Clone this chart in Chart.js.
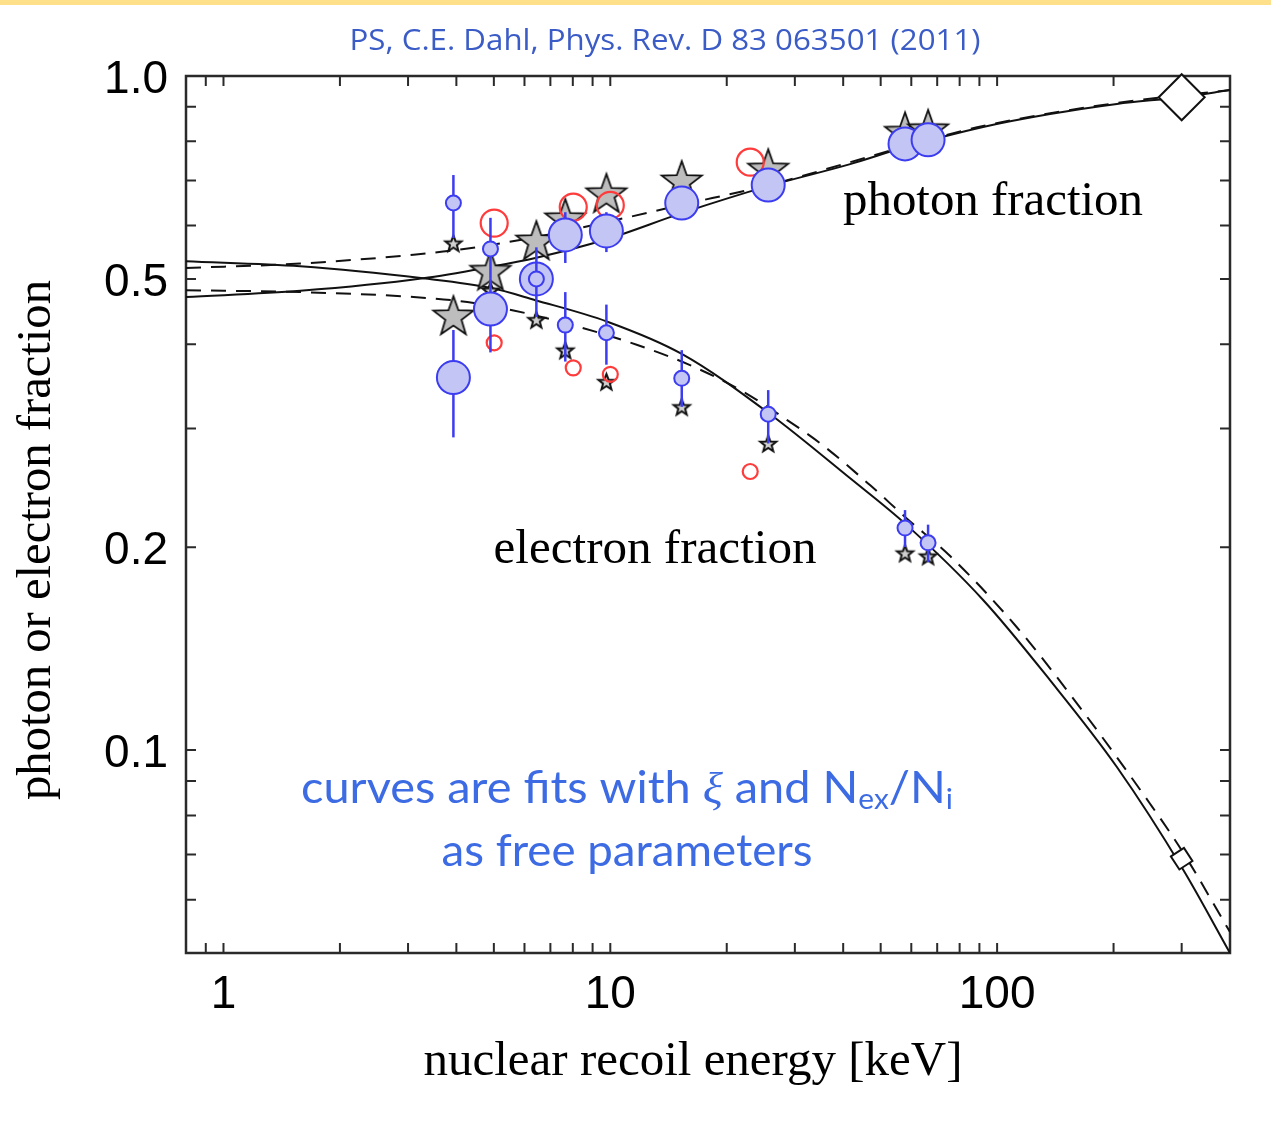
<!DOCTYPE html>
<html>
<head>
<meta charset="utf-8">
<title>Photon and electron fractions</title>
<script src="https://cdn.jsdelivr.net/npm/chart.js@4.4.1/dist/chart.umd.min.js"></script>
<style>
  html, body { margin: 0; padding: 0; background: #fff; }
  #wrap { position: absolute; left: 0; top: 0; width: 1271px; height: 1147px; }
  #band { position: absolute; left: 0; top: 0; width: 1271px; height: 5px; background: #fee08b; }
</style>
</head>
<body>
<div id="wrap"><canvas id="chart" width="1271" height="1147"></canvas></div>
<div id="band"></div>
<script>
// --- data (energies in keV, fractions) ---
const blueE = [3.93, 4.90, 6.44, 7.65, 9.77, 15.3, 25.6, 57.8, 66.3];
const bluePhoton = [0.357, 0.451, 0.500, 0.581, 0.589, 0.648, 0.689, 0.793, 0.804];
const bluePhotonLo = [0.291, 0.389, null, 0.528, 0.548, null, null, null, null];
const bluePhotonHi = [0.420, 0.500, null, 0.628, 0.628, null, null, null, null];
const blueElectron = [0.648, 0.554, 0.500, 0.427, 0.416, 0.356, 0.315, 0.2135, 0.203];
const blueElectronLo = [0.575, 0.500, 0.439, 0.377, 0.373, 0.323, 0.285, 0.200, 0.190];
const blueElectronHi = [0.713, 0.616, 0.557, 0.478, 0.458, 0.392, 0.342, 0.227, 0.216];

const starE = [3.93, 4.90, 6.44, 7.65, 9.77, 15.3, 25.6, 57.8, 66.3];
const starPhoton = [0.442, 0.515, 0.571, 0.616, 0.671, 0.701, 0.730, 0.828, 0.835];
const starElectron = [0.565, 0.481, 0.435, 0.392, 0.352, 0.323, 0.285, 0.196, 0.194];

const redE = [5.01, 8.02, 10.0, 23.0];
const redPhoton = [0.605, 0.639, 0.643, 0.745];
const redElectron = [0.402, 0.369, 0.361, 0.259];

const diamondE = [300];
const diamondPhoton = [0.93];
const diamondElectron = [0.069];

// fit curves
const fitE = [0.8, 1.58, 3.28, 4.90, 6.40, 9.83, 15.3, 25.7, 41.7, 58.2, 92.0, 137, 204, 303, 400];
const fitPhoton = [0.470, 0.480, 0.501, 0.521, 0.537, 0.573, 0.626, 0.687, 0.740, 0.785, 0.840, 0.878, 0.909, 0.931, 0.953];
const fitElectron = [0.531, 0.522, 0.501, 0.485, 0.465, 0.432, 0.387, 0.316, 0.253, 0.216, 0.167, 0.127, 0.0944, 0.0664, 0.0500];

const altPhotonE = [0.8, 1.58, 3.10, 4.02, 6.44, 9.77, 15.3, 25.7, 41.7, 58.2, 92.0, 204, 400];
const altPhoton = [0.519, 0.527, 0.543, 0.552, 0.577, 0.607, 0.644, 0.689, 0.745, 0.787, 0.843, 0.912, 0.953];
const altElectronE = [0.8, 1.58, 3.10, 4.27, 5.62, 8.35, 11.75, 15.8, 21.7, 28.6, 35.5, 47.0, 58.2, 75.6, 112.6, 166, 248, 302, 400];
const altElectron = [0.481, 0.478, 0.470, 0.462, 0.449, 0.424, 0.399, 0.374, 0.342, 0.309, 0.283, 0.247, 0.221, 0.194, 0.152, 0.1145, 0.0834, 0.0706, 0.0537];

// axes
const xTickValues = [1, 10, 100];
const xTickLabels = ['1', '10', '100'];
const xMinorTicks = [0.9, 1, 2, 3, 4, 5, 6, 7, 8, 9, 10, 20, 30, 40, 50, 60, 70, 80, 90, 100, 200, 300];
const yTickValues = [1.0, 0.5, 0.2, 0.1];
const yTickLabels = ['1.0', '0.5', '0.2', '0.1'];
const yMinorTicks = [0.06, 0.07, 0.08, 0.09, 0.1, 0.2, 0.3, 0.4, 0.5, 0.6, 0.7, 0.8, 0.9];

const pts = (xs, ys) => xs.map((e, i) => ({ x: e, y: ys[i] }));

// 5-pointed star markers
function makeStar(outerR, innerR, fill, lw) {
    const size = Math.ceil(2 * outerR + 2 * lw + 4);
    const c = document.createElement('canvas');
    c.width = c.height = size;
    const g = c.getContext('2d');
    g.translate(size / 2, size / 2 + outerR * 0.1);
    g.beginPath();
    for (let i = 0; i < 10; i++) {
        const r = i % 2 ? innerR : outerR;
        const a = -Math.PI / 2 + i * Math.PI / 5;
        g.lineTo(r * Math.cos(a), r * Math.sin(a));
    }
    g.closePath();
    g.fillStyle = fill;
    g.fill();
    g.lineWidth = lw;
    g.strokeStyle = '#111';
    g.stroke();
    return c;
}
const bigStar = makeStar(21, 8.5, '#bdbdbd', 1.8);
const smallStar = makeStar(8.5, 3.6, '#d0d0d0', 2);

// error bars drawn just before their dataset
const errorBars = {
    id: 'errorBars',
    beforeDatasetDraw(chart, args) {
        const ds = chart.data.datasets[args.index];
        if (!ds.errLo) return;
        const { ctx } = chart;
        const y = chart.scales.y;
        ctx.save();
        ctx.strokeStyle = '#3c3cf0';
        ctx.lineWidth = 2.5;
        args.meta.data.forEach((p, i) => {
            if (ds.errLo[i] == null) return;
            ctx.beginPath();
            ctx.moveTo(p.x, y.getPixelForValue(ds.errHi[i]));
            ctx.lineTo(p.x, y.getPixelForValue(ds.errLo[i]));
            ctx.stroke();
        });
        ctx.restore();
    }
};

// frame with inward ticks on all four sides
const frame = {
    id: 'frame',
    beforeDatasetsDraw(chart) {
        const { ctx, chartArea: a, scales: { x, y } } = chart;
        ctx.save();
        ctx.strokeStyle = '#2a2a2a';
        ctx.lineWidth = 2;
        ctx.beginPath();
        xMinorTicks.forEach(v => {
            const px = x.getPixelForValue(v);
            ctx.moveTo(px, a.bottom); ctx.lineTo(px, a.bottom - 10);
            ctx.moveTo(px, a.top); ctx.lineTo(px, a.top + 10);
        });
        yMinorTicks.forEach(v => {
            const py = y.getPixelForValue(v);
            ctx.moveTo(a.left, py); ctx.lineTo(a.left + 10, py);
            ctx.moveTo(a.right, py); ctx.lineTo(a.right - 10, py);
        });
        ctx.stroke();
        ctx.lineWidth = 2.5;
        ctx.strokeRect(a.left, a.top, a.right - a.left, a.bottom - a.top);
        ctx.restore();
    }
};

function fitText(ctx, text, cx, by, w, font, color) {
    ctx.font = font;
    const m = ctx.measureText(text).width;
    ctx.save();
    ctx.translate(cx, by);
    ctx.scale(w / m, 1);
    ctx.fillStyle = color;
    ctx.textAlign = 'center';
    ctx.textBaseline = 'alphabetic';
    ctx.fillText(text, 0, 0);
    ctx.restore();
}

function richText(ctx, parts, cx, by, w, color) {
    let total = 0;
    parts.forEach(p => { ctx.font = p.font; p.w = ctx.measureText(p.t).width; total += p.w; });
    ctx.save();
    ctx.translate(cx - w / 2, by);
    ctx.scale(w / total, 1);
    ctx.fillStyle = color;
    ctx.textAlign = 'left';
    ctx.textBaseline = 'alphabetic';
    let xx = 0;
    parts.forEach(p => { ctx.font = p.font; ctx.fillText(p.t, xx, p.dy || 0); xx += p.w; });
    ctx.restore();
}

// labels, titles and notes
const labels = {
    id: 'labels',
    afterDraw(chart) {
        const { ctx, chartArea: a, scales: { x, y } } = chart;
        ctx.save();
        ctx.fillStyle = '#000';
        ctx.font = '46px "Liberation Sans", Arial, sans-serif';
        ctx.textBaseline = 'alphabetic';
        ctx.textAlign = 'right';
        yTickValues.forEach((v, i) => ctx.fillText(yTickLabels[i], a.left - 18, y.getPixelForValue(v) + 17));
        ctx.textAlign = 'center';
        xTickValues.forEach((v, i) => ctx.fillText(xTickLabels[i], x.getPixelForValue(v), a.bottom + 55));
        ctx.restore();

        const serif = '48px "Liberation Serif", "Times New Roman", serif';
        fitText(ctx, 'nuclear recoil energy [keV]', 693, 1075, 539, serif, '#000');
        ctx.save();
        ctx.translate(50, 540);
        ctx.rotate(-Math.PI / 2);
        fitText(ctx, 'photon or electron fraction', 0, 0, 520, serif, '#000');
        ctx.restore();
        fitText(ctx, 'photon fraction', 993, 215, 300, serif, '#000');
        fitText(ctx, 'electron fraction', 655, 563, 323, serif, '#000');

        fitText(ctx, 'PS, C.E. Dahl, Phys. Rev. D 83 063501 (2011)', 665, 50, 631,
            '30px "Open Sans", Lato, sans-serif', '#3b5cc6');

        const f = '44px Lato, "Open Sans", sans-serif';
        const sub = '28px Lato, "Open Sans", sans-serif';
        richText(ctx, [
            { t: 'curves are fits with ', font: f },
            { t: 'ξ', font: 'italic 44px "Liberation Serif", serif' },
            { t: ' and N', font: f },
            { t: 'ex', font: sub, dy: 6 },
            { t: '/N', font: f },
            { t: 'i', font: sub, dy: 6 }
        ], 627, 803, 652, '#3c6be3');
        fitText(ctx, 'as free parameters', 627, 866, 371, f, '#3c6be3');
    }
};

const lineStyle = { showLine: true, pointRadius: 0, borderColor: '#111', borderWidth: 2,
    cubicInterpolationMode: 'monotone', fill: false, order: 10 };

new Chart(document.getElementById('chart').getContext('2d'), {
    type: 'scatter',
    data: {
        datasets: [
            Object.assign({ label: 'fit photon', data: pts(fitE, fitPhoton) }, lineStyle),
            Object.assign({ label: 'fit electron', data: pts(fitE, fitElectron) }, lineStyle),
            Object.assign({ label: 'alt photon', data: pts(altPhotonE, altPhoton), borderDash: [15, 10] }, lineStyle),
            Object.assign({ label: 'alt electron', data: pts(altElectronE, altElectron), borderDash: [15, 10] }, lineStyle),
            { label: 'diamond photon', data: pts(diamondE, diamondPhoton), pointStyle: 'rectRot', pointRadius: 23,
              backgroundColor: '#fff', borderColor: '#111', borderWidth: 2, clip: false, order: 9 },
            { label: 'diamond electron', data: pts(diamondE, diamondElectron), pointStyle: 'rectRot', pointRadius: 11,
              pointRotation: 12, backgroundColor: '#fff', borderColor: '#111', borderWidth: 2, order: 9 },
            { label: 'star electron', data: pts(starE, starElectron), pointStyle: smallStar, pointRadius: 9, order: 8 },
            { label: 'star photon', data: pts(starE, starPhoton), pointStyle: bigStar, pointRadius: 10, order: 7 },
            { label: 'red electron', data: pts(redE, redElectron), pointRadius: 7.5, backgroundColor: 'rgba(0,0,0,0)',
              borderColor: '#ff3b3b', borderWidth: 2.2, order: 6 },
            { label: 'red photon', data: pts(redE, redPhoton), pointRadius: 13.5, backgroundColor: 'rgba(0,0,0,0)',
              borderColor: '#ff3b3b', borderWidth: 2.2, order: 5 },
            { label: 'blue photon', data: pts(blueE, bluePhoton), errLo: bluePhotonLo, errHi: bluePhotonHi,
              pointRadius: 16.5, backgroundColor: '#c3c5f5', borderColor: '#3c3cf0', borderWidth: 2, order: 2 },
            { label: 'blue electron', data: pts(blueE, blueElectron), errLo: blueElectronLo, errHi: blueElectronHi,
              pointRadius: 7.5, backgroundColor: '#c3c5f5', borderColor: '#3c3cf0', borderWidth: 2, order: 1 }
        ]
    },
    options: {
        responsive: false,
        animation: false,
        layout: { padding: { left: 186, right: 41, top: 76, bottom: 194 } },
        plugins: { legend: { display: false }, tooltip: { enabled: false }, title: { display: false } },
        scales: {
            x: { type: 'logarithmic', min: 0.8, max: 400, display: false },
            y: { type: 'logarithmic', min: 0.05, max: 1.0, display: false }
        }
    },
    plugins: [frame, errorBars, labels]
});
</script>
</body>
</html>
